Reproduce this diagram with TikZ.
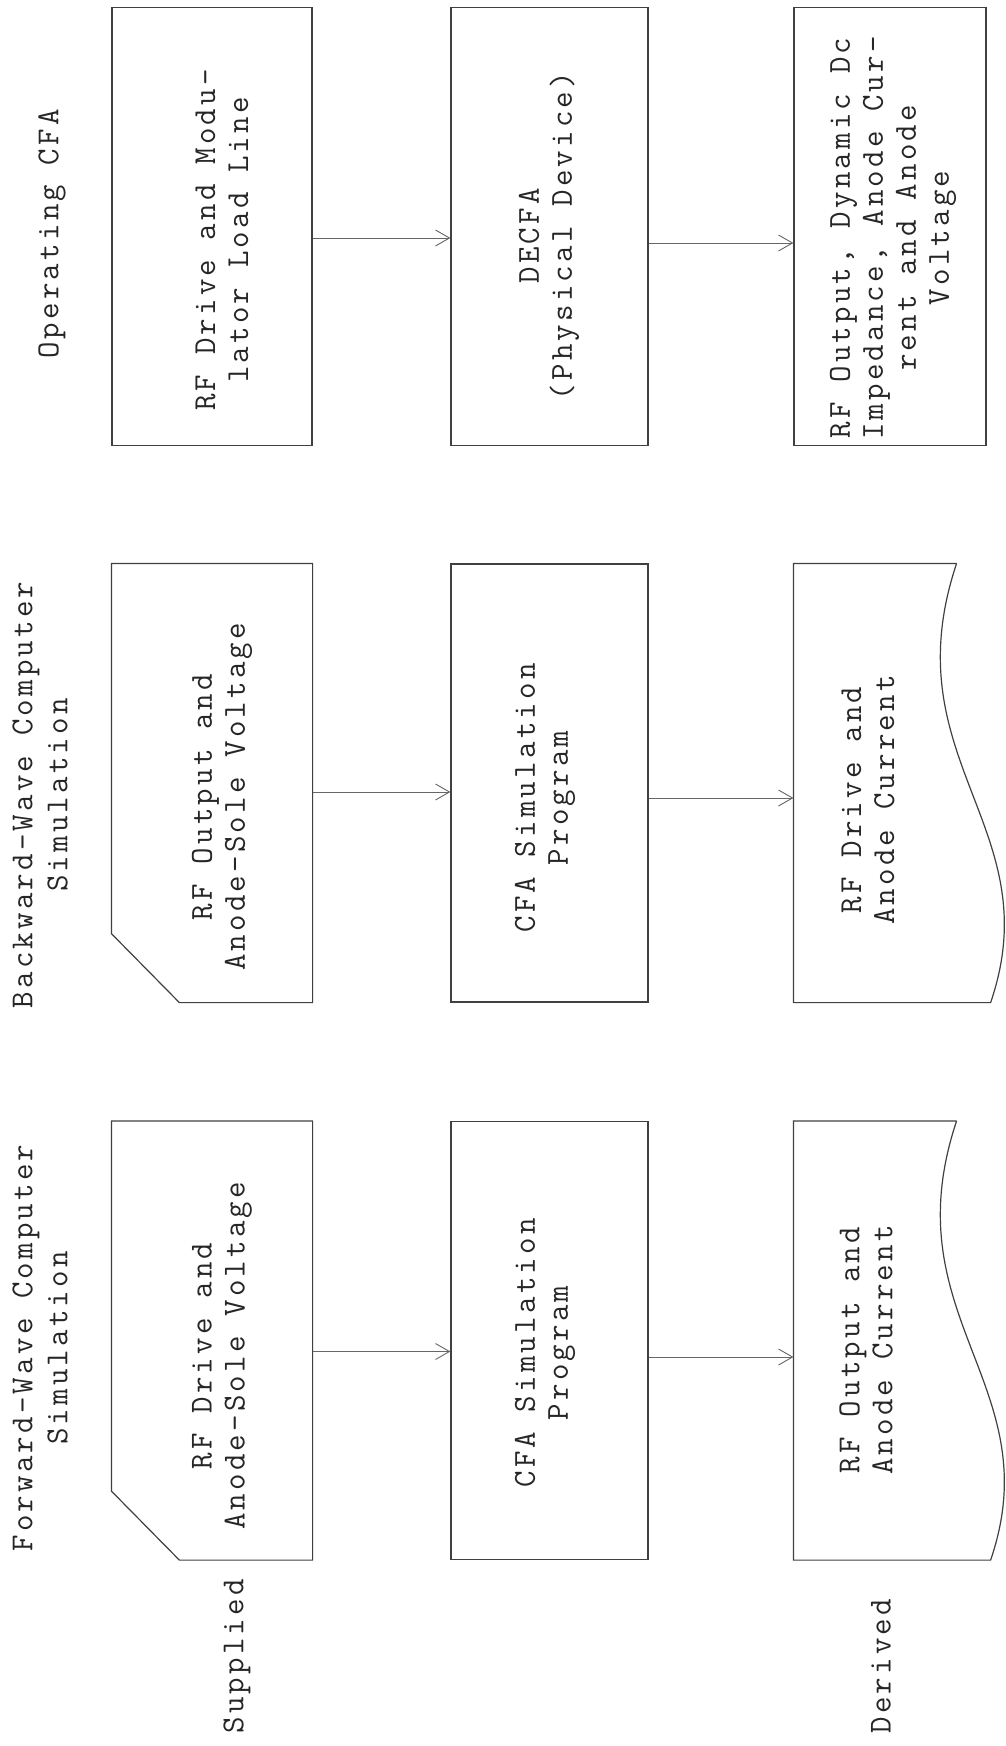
\documentclass[tikz,border=0pt]{standalone}
\usepackage{fontspec}
\setmonofont{Latin Modern Mono}[LetterSpace=10]
\usetikzlibrary{arrows.meta}

\tikzset{
  box/.style={draw=black!75, line width=1.2pt, minimum height=438pt, inner sep=0pt},
  nobox/.style={box, draw=none},
  flow/.style={->, draw=black!60, line width=0.9pt},
  boxtext/.style={rotate=90, align=center, text=black!85, font=\ttfamily\fontsize{32}{33}\selectfont},
  rowhead/.style={rotate=90, align=center, text=black!85, font=\ttfamily\fontsize{32}{35}\selectfont},
}

\begin{document}
\begin{tikzpicture}[x=1pt, y=1pt, >={Straight Barb[length=14pt,width=16pt]}]
    \useasboundingbox (0,0) rectangle (1006,-1746);

    % row titles
    \node[rowhead] (opHead) at (52,-234) {Operating CFA};
    \node[rowhead] (bwdHead) at (40,-795) {Backward-Wave Computer\\Simulation};
    \node[rowhead] (fwdHead) at (40,-1348) {Forward-Wave Computer\\Simulation};

    % top row: operating CFA
    \node[box, minimum width=200pt] (opIn) at (212,-226.5) {};
    \node[box, minimum width=197pt] (opDev) at (549.5,-226.5) {};
    \node[box, minimum width=192pt] (opOut) at (890,-226.5) {};
    \node[boxtext] (opInTxt) at (222,-240) {RF Drive and Modu-\\lator Load Line};
    \node[boxtext] (opDevTxt) at (549,-236) {DECFA\\(Physical Device)};
    \node[boxtext] (opOutTxt) at (893,-238) {RF Output, Dynamic Dc\\Impedance, Anode Cur-\\rent and Anode\\Voltage};

    \draw[flow] ([yshift=-11.5pt]opIn.east) -- ([yshift=-11.5pt]opDev.west);
    \draw[flow] ([yshift=-16.5pt]opDev.east) -- ([yshift=-16.5pt]opOut.west);

    % middle row: backward-wave simulation
    \node[nobox, minimum width=200pt] (bwdIn) at (212,-783) {};
    \draw[box] (bwdIn.north west) -- ([yshift=69pt]bwdIn.south west) -- ([xshift=68pt]bwdIn.south west)
        -- (bwdIn.south east) -- (bwdIn.north east) -- cycle;
    \node[box, minimum width=197pt] (bwdProg) at (549.5,-783) {};
    \node[nobox, minimum width=162pt] (bwdOut) at (875,-783) {};
    \draw[box] (bwdOut.north east) -- (bwdOut.north west) -- (bwdOut.south west) -- ([xshift=34pt]bwdOut.south east)
        .. controls +(60,175) and +(-66,-197) .. (bwdOut.north east);
    \node[boxtext] (bwdInTxt) at (222,-797) {RF Output and\\Anode-Sole Voltage};
    \node[boxtext] (bwdProgTxt) at (545,-798) {CFA Simulation\\Program};
    \node[boxtext] (bwdOutTxt) at (868,-800) {RF Drive and\\Anode Current};

    \draw[flow] ([yshift=-9pt]bwdIn.east) -- ([yshift=-9pt]bwdProg.west);
    \draw[flow] ([yshift=-15pt]bwdProg.east) -- ([yshift=-15pt]bwdOut.west);

    % bottom row: forward-wave simulation
    \node[nobox, minimum width=200pt] (fwdIn) at (212,-1340.5) {};
    \draw[box] (fwdIn.north west) -- ([yshift=69pt]fwdIn.south west) -- ([xshift=68pt]fwdIn.south west)
        -- (fwdIn.south east) -- (fwdIn.north east) -- cycle;
    \node[box, minimum width=197pt] (fwdProg) at (549.5,-1340.5) {};
    \node[nobox, minimum width=162pt] (fwdOut) at (875,-1340.5) {};
    \draw[box] (fwdOut.north east) -- (fwdOut.north west) -- (fwdOut.south west) -- ([xshift=34pt]fwdOut.south east)
        .. controls +(60,175) and +(-66,-197) .. (fwdOut.north east);
    \node[boxtext] (fwdInTxt) at (222,-1356) {RF Drive and\\Anode-Sole Voltage};
    \node[boxtext] (fwdProgTxt) at (545,-1353) {CFA Simulation\\Program};
    \node[boxtext] (fwdOutTxt) at (866,-1350) {RF Output and\\Anode Current};

    \draw[flow] ([yshift=-11pt]fwdIn.east) -- ([yshift=-11pt]fwdProg.west);
    \draw[flow] ([yshift=-16.5pt]fwdProg.east) -- ([yshift=-16.5pt]fwdOut.west);

    % column labels
    \node[rowhead, anchor=west] (supplied) at (237,-1737) {Supplied};
    \node[rowhead, anchor=west] (derived) at (881,-1737) {Derived};
\end{tikzpicture}
\end{document}
